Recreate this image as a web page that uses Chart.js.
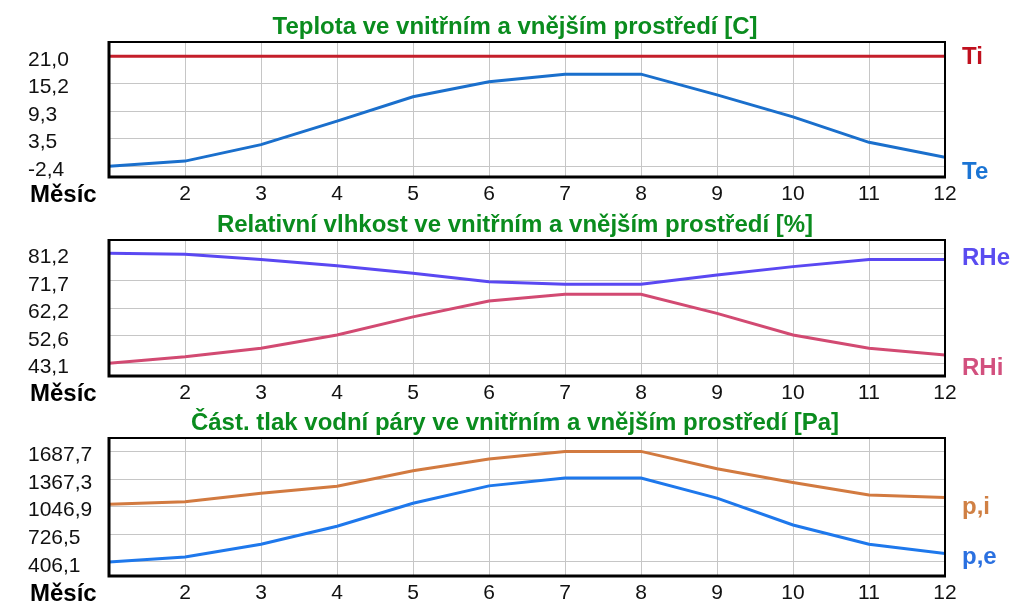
<!DOCTYPE html>
<html>
<head>
<meta charset="utf-8">
<script src="https://cdn.jsdelivr.net/npm/chart.js@4"></script>
<style>
body { margin: 0; background: #fff; }
canvas { display: block; }
</style>
</head>
<body>
<canvas id="cTemp" width="1010" height="206"></canvas>
<canvas id="cRh" width="1010" height="199"></canvas>
<canvas id="cPress" width="1010" height="200"></canvas>
<script>
// months on the x axis
var months = [1, 2, 3, 4, 5, 6, 7, 8, 9, 10, 11, 12];

// temperature [C]
var ti = [21.0, 21.0, 21.0, 21.0, 21.0, 21.0, 21.0, 21.0, 21.0, 21.0, 21.0, 21.0];
var te = [-2.4, -1.3, 2.2, 7.2, 12.4, 15.6, 17.2, 17.2, 12.8, 8.1, 2.7, -0.5];
var tempTicks = [-2.4, 3.5, 9.3, 15.2, 21.0];

// relative humidity [%]
var rhe = [81.2, 80.9, 79.1, 76.9, 74.3, 71.4, 70.5, 70.5, 73.7, 76.6, 79.1, 79.1];
var rhi = [43.1, 45.4, 48.3, 52.9, 59.2, 64.7, 67.0, 67.0, 60.4, 52.9, 48.3, 46.0];
var rhTicks = [43.1, 52.6, 62.2, 71.7, 81.2];

// partial vapour pressure [Pa]
var pi = [1075, 1105, 1203, 1284, 1463, 1599, 1687.7, 1687.7, 1486, 1326, 1183, 1152];
var pe = [406.1, 464, 612, 820, 1086, 1288, 1378, 1378, 1146, 834, 612, 504];
var pTicks = [406.1, 726.5, 1046.9, 1367.3, 1687.7];

Chart.defaults.font.family = '"Liberation Sans", Arial, sans-serif';
Chart.defaults.color = '#111';

function fmt(v) {
    return v.toFixed(1).replace('.', ',');
}

var textPlugin = {
    id: 'texts',
    afterDraw: function(chart, args, o) {
        var ctx = chart.ctx;
        var a = chart.chartArea;
        var ys = chart.scales.y;
        ctx.save();
        // frame
        ctx.strokeStyle = '#000';
        ctx.lineWidth = 2;
        ctx.strokeRect(a.left, a.top, a.right - a.left, a.bottom - a.top);
        ctx.lineWidth = 3;
        ctx.beginPath();
        ctx.moveTo(a.left, a.top - 1);
        ctx.lineTo(a.left, a.bottom);
        ctx.lineTo(a.right + 1, a.bottom);
        ctx.stroke();
        // title
        ctx.font = 'bold 24px "Liberation Sans", Arial, sans-serif';
        ctx.fillStyle = '#0a8c1e';
        ctx.textAlign = 'center';
        ctx.textBaseline = 'middle';
        ctx.fillText(o.title, 515, o.titleY);
        // x axis name
        ctx.fillStyle = '#000';
        ctx.textAlign = 'left';
        ctx.fillText('Měsíc', 30, a.bottom + 18);
        // series names at the right, next to the last value
        chart.data.datasets.forEach(function(ds, i) {
            var last = ds.data[ds.data.length - 1].y;
            ctx.fillStyle = ds.nameColor;
            ctx.fillText(ds.label, 962, ys.getPixelForValue(last) + ds.nameDy);
        });
        ctx.restore();
    }
};

function makeChart(id, title, titleY, topPad, sets, ticks, padTop, padBottom) {
    var step = (ticks[ticks.length - 1] - ticks[0]) / 8;
    var gridVals = [];
    for (var i = 0; i < ticks.length; i++) {
        gridVals.push(ticks[i]);
        if (i < ticks.length - 1) gridVals.push((ticks[i] + ticks[i + 1]) / 2);
    }
    return new Chart(document.getElementById(id).getContext('2d'), {
        type: 'line',
        data: {
            labels: months,
            datasets: sets.map(function(s) {
                return {
                    label: s.label,
                    data: s.data.map(function(v, k) { return {x: months[k], y: v}; }),
                    borderColor: s.color,
                    backgroundColor: s.color,
                    nameColor: s.textColor,
                    nameDy: s.dy,
                    borderWidth: 3,
                    pointRadius: 0,
                    tension: 0
                };
            })
        },
        options: {
            responsive: false,
            animation: false,
            layout: { padding: { left: 28, right: 65, top: topPad, bottom: 0 } },
            plugins: {
                legend: { display: false },
                tooltip: { enabled: false },
                texts: { title: title, titleY: titleY }
            },
            scales: {
                x: {
                    type: 'linear',
                    min: 1,
                    max: 12,
                    afterFit: function(scale) { scale.height = 29; },
                    border: { display: false },
                    grid: {
                        drawTicks: false,
                        color: function(c) {
                            return (c.tick && (c.tick.value === 1 || c.tick.value === 12)) ? 'rgba(0,0,0,0)' : '#c6c6c6';
                        }
                    },
                    ticks: {
                        stepSize: 1,
                        padding: 5,
                        maxRotation: 0,
                        autoSkip: false,
                        font: { size: 21 },
                        color: '#111',
                        callback: function(v) { return v === 1 ? '' : v; }
                    }
                },
                y: {
                    min: ticks[0] - padBottom * step,
                    max: ticks[ticks.length - 1] + padTop * step,
                    afterFit: function(scale) { scale.width = 81; },
                    afterBuildTicks: function(scale) {
                        scale.ticks = gridVals.map(function(v) { return {value: v}; });
                    },
                    border: { display: false },
                    grid: { drawTicks: false, color: '#c6c6c6' },
                    ticks: {
                        crossAlign: 'far',
                        padding: 0,
                        labelOffset: 4,
                        font: { size: 21 },
                        color: '#111',
                        callback: function(v) {
                            for (var j = 0; j < ticks.length; j++) {
                                if (Math.abs(ticks[j] - v) < 1e-6) return fmt(ticks[j]);
                            }
                            return '';
                        }
                    }
                }
            }
        },
        plugins: [textPlugin]
    });
}

var tempChart = makeChart('cTemp', 'Teplota ve vnitřním a vnějším prostředí [C]', 27, 42, [
    { label: 'Ti', data: ti, color: '#c41e2a', textColor: '#c0101e', dy: 1 },
    { label: 'Te', data: te, color: '#1a6fcc', textColor: '#1a74d4', dy: 15 }
], tempTicks, 1.04, 0.78);

var rhChart = makeChart('cRh', 'Relativní vlhkost ve vnitřním a vnějším prostředí [%]', 19, 34, [
    { label: 'RHe', data: rhe, color: '#5a48f2', textColor: '#5a4cf0', dy: -1 },
    { label: 'RHi', data: rhi, color: '#d24a72', textColor: '#d2507e', dy: 13 }
], rhTicks, 0.97, 0.92);

var pChart = makeChart('cPress', 'Část. tlak vodní páry ve vnitřním a vnějším prostředí [Pa]', 18, 33, [
    { label: 'p,i', data: pi, color: '#d27a40', textColor: '#d08044', dy: 10 },
    { label: 'p,e', data: pe, color: '#1e78ec', textColor: '#2a70e0', dy: 4 }
], pTicks, 0.97, 1.02);
</script>
</body>
</html>
